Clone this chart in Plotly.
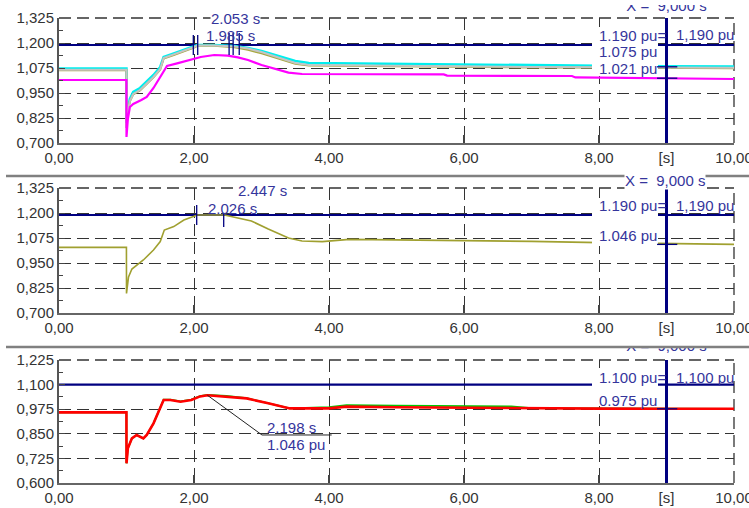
import plotly.graph_objects as go

# ---------------- data ----------------
# top panel
t_cyan = [0, 0.999, 1.0, 1.02, 1.05, 1.1, 1.2, 1.3, 1.4, 1.5, 1.55, 1.7, 1.85, 2.0, 2.05, 2.3, 2.6, 2.8, 3.0, 3.3, 3.5, 3.7, 4.5, 5.8, 7.0, 8.0, 9.0, 10.0]
v_cyan = [1.072, 1.072, 0.80, 0.87, 0.92, 0.955, 0.975, 1.005, 1.04, 1.08, 1.13, 1.148, 1.165, 1.182, 1.19, 1.19, 1.185, 1.175, 1.16, 1.13, 1.11, 1.100, 1.097, 1.092, 1.088, 1.086, 1.084, 1.082]
v_gray = [1.066, 1.066, 0.775, 0.86, 0.91, 0.945, 0.965, 0.995, 1.03, 1.07, 1.125, 1.143, 1.16, 1.18, 1.188, 1.188, 1.183, 1.172, 1.155, 1.122, 1.10, 1.09, 1.087, 1.082, 1.080, 1.079, 1.077, 1.076]
v_olive_top = [1.064, 1.064, 0.775, 0.858, 0.908, 0.943, 0.963, 0.993, 1.028, 1.068, 1.122, 1.14, 1.157, 1.177, 1.186, 1.186, 1.179, 1.166, 1.148, 1.116, 1.096, 1.087, 1.084, 1.080, 1.078, 1.077, 1.075, 1.074]
t_mag = [0, 0.999, 1.0, 1.02, 1.05, 1.1, 1.22, 1.3, 1.4, 1.52, 1.6, 1.75, 1.9, 2.1, 2.3, 2.5, 2.65, 2.8, 3.0, 3.2, 3.4, 3.6, 5.7, 5.75, 7.6, 7.65, 9.0, 10.0]
v_mag = [1.015, 1.015, 0.73, 0.82, 0.88, 0.895, 0.915, 0.93, 0.975, 1.045, 1.085, 1.098, 1.113, 1.13, 1.14, 1.137, 1.128, 1.115, 1.09, 1.07, 1.052, 1.045, 1.043, 1.037, 1.035, 1.028, 1.022, 1.020]

# middle panel
t_mid = [0, 0.999, 1.0, 1.03, 1.08, 1.15, 1.25, 1.4, 1.5, 1.56, 1.7, 1.85, 2.0, 2.05, 2.45, 2.6, 2.85, 3.1, 3.4, 3.6, 3.9, 4.3, 5.0, 6.0, 7.0, 8.0, 9.0, 10.0]
v_mid = [1.028, 1.028, 0.798, 0.88, 0.92, 0.94, 0.965, 1.015, 1.057, 1.115, 1.132, 1.165, 1.182, 1.19, 1.19, 1.18, 1.16, 1.12, 1.075, 1.06, 1.057, 1.068, 1.066, 1.062, 1.058, 1.052, 1.046, 1.043]

# bottom panel
t_bot = [0, 0.999, 1.0, 1.02, 1.08, 1.15, 1.25, 1.3, 1.4, 1.47, 1.55, 1.65, 1.8, 1.96, 2.09, 2.198, 2.48, 2.78, 3.1, 3.42, 4.0, 4.26, 5.0, 6.0, 6.7, 7.0, 8.0, 9.0, 10.0]
v_red = [0.959, 0.959, 0.70, 0.776, 0.827, 0.844, 0.827, 0.844, 0.903, 0.962, 1.022, 1.022, 1.013, 1.022, 1.04, 1.046, 1.04, 1.03, 1.005, 0.979, 0.979, 0.988, 0.985, 0.982, 0.981, 0.980, 0.978, 0.977, 0.977]
v_green = [0.959, 0.959, 0.70, 0.776, 0.827, 0.844, 0.827, 0.844, 0.903, 0.962, 1.024, 1.024, 1.015, 1.024, 1.042, 1.048, 1.042, 1.031, 1.005, 0.979, 0.985, 0.996, 0.993, 0.990, 0.989, 0.980, 0.978, 0.977, 0.977]

limit_top = 1.19
limit_bot = 1.10
cursor_t = 9.0

x_ticks = [0, 2, 4, 6, 8, 9, 10]
x_text = ["0,00", "2,00", "4,00", "6,00", "8,00", "[s]", "10,00"]
y_ticks_a = [0.700, 0.825, 0.950, 1.075, 1.200, 1.325]
y_ticks_b = [0.600, 0.725, 0.850, 0.975, 1.100, 1.225]

def fmt(v):
    return f"{v:.3f}".replace(".", ",")

# ---------------- geometry helpers ----------------
W, H = 749, 508
ML, MR, MT, MB = 59, 15, 5, 25
PW, PH = W - ML - MR, H - MT - MB

def px(xp):
    return (xp - ML) / PW

def py(yp):
    return (H - MB - yp) / PH

FONT = "Arial, Liberation Sans, sans-serif"
TXT = "#35359c"
NAVY = "#000080"
GRID = "#333333"

fig = go.Figure()

def line(x, y, color, width, xa, ya, name):
    fig.add_trace(go.Scatter(x=x, y=y, mode="lines", line=dict(color=color, width=width),
                             xaxis=xa, yaxis=ya, name=name, showlegend=False, hoverinfo="skip"))

# top
line([0, 10], [limit_top, limit_top], NAVY, 2, "x", "y", "limit")
line(t_cyan, v_cyan, "#00eeee", 2.6, "x", "y", "cyan")
line(t_cyan, v_olive_top, "#a8a840", 2, "x", "y", "olive")
line(t_cyan, v_gray, "#c4c4c4", 2, "x", "y", "gray")
line(t_mag, v_mag, "#ff00ff", 2.2, "x", "y", "magenta")
# middle
line([0, 10], [limit_top, limit_top], NAVY, 2, "x2", "y2", "limit")
line(t_mid, v_mid, "#a0a030", 1.6, "x2", "y2", "olive")
# bottom
line([0, 10], [limit_bot, limit_bot], NAVY, 2.2, "x3", "y3", "limit")
line(t_bot, v_green, "#00c800", 1.8, "x3", "y3", "green")
line(t_bot, v_red, "#ff0000", 2.6, "x3", "y3", "red")

# clipped cursor captions (top & bottom)
fig.add_trace(go.Scatter(x=[cursor_t], y=[0.985], mode="text", text=["X = \u00a09,000 s"],
                         textfont=dict(family=FONT, size=15, color=TXT), textposition="middle center",
                         cliponaxis=True, xaxis="x4", yaxis="y4", showlegend=False, hoverinfo="skip"))
fig.add_trace(go.Scatter(x=[cursor_t], y=[1.0], mode="text", text=["X = \u00a09,000 s"],
                         textfont=dict(family=FONT, size=15, color=TXT), textposition="middle center",
                         cliponaxis=True, xaxis="x5", yaxis="y5", showlegend=False, hoverinfo="skip"))

dom_top = [py(143), py(18)]
dom_mid = [py(313), py(188)]
dom_bot = [0, py(360)]

xcommon = dict(range=[0, 10], tickmode="array", tickvals=x_ticks, ticktext=x_text,
               showgrid=True, griddash="12px,6px", gridcolor=GRID, gridwidth=1.3,
               showline=True, linecolor="#666666", linewidth=2,
               ticks="inside", ticklen=8, tickcolor="#444444", tickwidth=1.5,
               ticklabeloverflow="allow", automargin=False,
               tickfont=dict(family=FONT, size=15, color="#333333"), zeroline=False, fixedrange=True)

def ycommon(lo, hi, vals, dom):
    minor_vals = [round(v + 0.0625, 4) for v in vals[:-1]]
    return dict(range=[lo, hi], domain=dom, tickmode="array", tickvals=vals, ticktext=[fmt(v) for v in vals],
                showgrid=True, griddash="12px,6px", gridcolor=GRID, gridwidth=1.3,
                showline=True, linecolor="#555555", linewidth=2,
                ticks="inside", ticklen=6, tickcolor="#444444",
                minor=dict(tickvals=minor_vals, ticks="inside", ticklen=4, tickcolor="#444444", showgrid=False),
                ticklabeloverflow="allow", automargin=False,
                tickfont=dict(family=FONT, size=15, color="#333333"), zeroline=False, fixedrange=True)

fig.update_layout(
    width=W, height=H,
    margin=dict(l=ML, r=MR, t=MT, b=MB, autoexpand=False),
    paper_bgcolor="white", plot_bgcolor="rgba(0,0,0,0)",
    showlegend=False,
    xaxis=dict(anchor="y", **xcommon),
    xaxis2=dict(anchor="y2", **xcommon),
    xaxis3=dict(anchor="y3", **xcommon),
    yaxis=dict(anchor="x", **ycommon(0.7, 1.325, y_ticks_a, dom_top)),
    yaxis2=dict(anchor="x2", **ycommon(0.7, 1.325, y_ticks_a, dom_mid)),
    yaxis3=dict(anchor="x3", **ycommon(0.6, 1.225, y_ticks_b, dom_bot)),
    xaxis4=dict(anchor="y4", range=[0, 10], visible=False, fixedrange=True, automargin=False),
    yaxis4=dict(anchor="x4", range=[0, 1], domain=[py(143), 1.0], visible=False, fixedrange=True, automargin=False),
    xaxis5=dict(anchor="y5", range=[0, 10], visible=False, fixedrange=True, automargin=False),
    yaxis5=dict(anchor="x5", range=[0, 1], domain=[0, py(347.5)], visible=False, fixedrange=True, automargin=False),
)

shapes = []
# white masks behind value labels
for y0, y1 in [(27, 76), (198, 246), (368, 406)]:
    shapes.append(dict(type="rect", xref="paper", yref="paper", x0=px(592), x1=px(658), y0=py(y1), y1=py(y0),
                       fillcolor="white", line=dict(width=0), layer="above"))
# dashed top/right borders
for xa, ya in [("x", "y"), ("x2", "y2"), ("x3", "y3")]:
    shapes.append(dict(type="line", xref=f"{xa} domain", yref=f"{ya} domain", x0=0, x1=1, y0=1, y1=1,
                       line=dict(color=GRID, width=1.3, dash="12px,6px"), layer="below"))
    shapes.append(dict(type="line", xref=f"{xa} domain", yref=f"{ya} domain", x0=1, x1=1, y0=0, y1=1,
                       line=dict(color=GRID, width=1.3, dash="12px,6px"), layer="below"))
    # cursor line
    shapes.append(dict(type="line", xref=xa, yref=f"{ya} domain", x0=cursor_t, x1=cursor_t, y0=0, y1=1,
                       line=dict(color=NAVY, width=3), layer="above"))
# separators
for yy in [176, 347]:
    shapes.append(dict(type="line", xref="paper", yref="paper", x0=px(6), x1=px(749), y0=py(yy), y1=py(yy),
                       line=dict(color="#808080", width=2.5)))
# time markers
for t, a, b in [(1.99, 1.14, 1.24), (2.055, 1.14, 1.24), (2.52, 1.14, 1.25), (2.58, 1.14, 1.25), (2.67, 1.14, 1.25)]:
    shapes.append(dict(type="line", xref="x", yref="y", x0=t, x1=t, y0=a, y1=b, line=dict(color=NAVY, width=1.3), layer="above"))
for t, a, b in [(2.04, 1.14, 1.24), (2.44, 1.13, 1.20)]:
    shapes.append(dict(type="line", xref="x2", yref="y2", x0=t, x1=t, y0=a, y1=b, line=dict(color=NAVY, width=1.3), layer="above"))
# cursor crosshair ticks
for xa, ya, v in [("x", "y", 1.081), ("x", "y", 1.024), ("x2", "y2", 1.043), ("x3", "y3", 0.977)]:
    shapes.append(dict(type="line", xref=xa, yref=ya, x0=8.86, x1=9.16, y0=v, y1=v, line=dict(color=NAVY, width=1.3), layer="above"))
# leader line for bottom annotation
shapes.append(dict(type="path", xref="x3", yref="y3", path="M 2.198,1.046 L 3.007,0.844 L 4.04,0.844",
                   line=dict(color="#222222", width=1), layer="above"))
fig.update_layout(shapes=shapes)

ann = []
def lab(text, xp, yp, anchor="left", bg=None):
    d = dict(text=text, xref="paper", yref="paper", x=px(xp), y=py(yp), xanchor=anchor, yanchor="middle",
             showarrow=False, font=dict(family=FONT, size=15, color=TXT), borderpad=0)
    if bg:
        d["bgcolor"] = bg
    ann.append(d)

lab("2.053 s", 210, 18, bg="white")
lab("1.985 s", 205, 35)
lab("1.190 pu=", 598, 35)
lab("1,190 pu", 675, 34)
lab("1.075 pu", 598, 51.5)
lab("1.021 pu", 598, 68)

lab("2.447 s", 237, 190, bg="white")
lab("2.026 s", 207, 208)
lab("X = \u00a09,000 s", 665, 180, anchor="center", bg="white")
lab("1.190 pu=", 598, 206)
lab("1,190 pu", 675, 206)
lab("1.046 pu", 598, 236)

lab("1.100 pu=", 598, 377)
lab("1,100 pu", 675, 377)
lab("0.975 pu", 598, 400)
lab("2.198 s", 266, 427)
lab("1.046 pu", 266, 444)
fig.update_layout(annotations=ann)

fig.write_html("out.html")
